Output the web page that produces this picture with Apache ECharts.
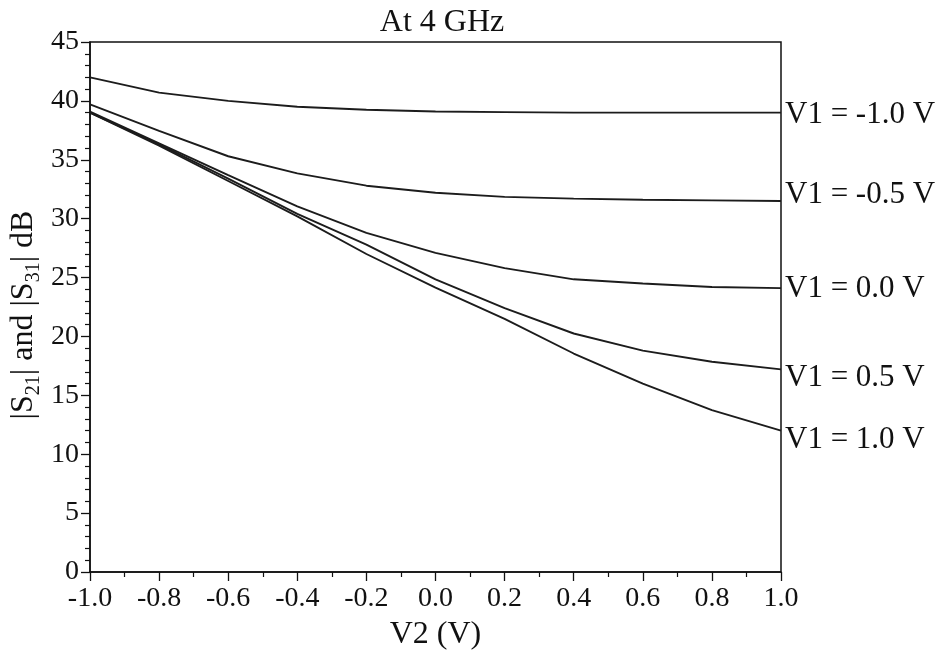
<!DOCTYPE html>
<html>
<head>
<meta charset="utf-8">
<title>At 4 GHz</title>
<script src="https://cdn.jsdelivr.net/npm/echarts@6/dist/echarts.min.js"></script>
<style>
  html, body { margin: 0; padding: 0; background: #fff; }
  #chart { width: 943px; height: 659px; }
</style>
</head>
<body>
<div id="chart"></div>
<script>
// Control voltage V2 (V) sampled every 0.2 V
const v2 = [-1.0, -0.8, -0.6, -0.4, -0.2, 0.0, 0.2, 0.4, 0.6, 0.8, 1.0];

// |S21| and |S31| (dB) for each V1 setting
const sV1m10 = [42.0, 40.7, 40.0, 39.5, 39.25, 39.1, 39.05, 39.0, 39.0, 39.0, 39.0];
const sV1m05 = [39.7, 37.45, 35.3, 33.85, 32.8, 32.2, 31.85, 31.7, 31.6, 31.55, 31.5];
const sV1p00 = [39.1, 36.4, 33.7, 31.05, 28.8, 27.1, 25.8, 24.85, 24.5, 24.2, 24.1];
const sV1p05 = [39.0, 36.3, 33.4, 30.4, 27.8, 24.85, 22.4, 20.25, 18.8, 17.85, 17.2];
const sV1p10 = [39.0, 36.2, 33.2, 30.2, 27.0, 24.15, 21.5, 18.55, 16.0, 13.75, 12.0];

const curveNames = ['V1 = -1.0 V', 'V1 = -0.5 V', 'V1 = 0.0 V', 'V1 = 0.5 V', 'V1 = 1.0 V'];
const curveValues = [sV1m10, sV1m05, sV1p00, sV1p05, sV1p10];

const FONT = '"Liberation Serif", "Times New Roman", serif';
// small vertical nudges so the end labels don't crowd each other
const labelNudge = [2, -6, 1, 8, 9];

const chart = echarts.init(document.getElementById('chart'), null, { renderer: 'canvas' });

const series = curveNames.map((name, i) => ({
  name: name,
  type: 'line',
  data: v2.map((x, k) => [x, curveValues[i][k]]),
  showSymbol: false,
  symbol: 'none',
  smooth: false,
  lineStyle: { color: '#1c1c1c', width: 1.9 },
  emphasis: { disabled: true },
  endLabel: {
    show: true,
    formatter: '{a}',
    distance: 4,
    offset: [0, labelNudge[i]],
    color: '#111',
    fontFamily: FONT,
    fontSize: 31
  },
  z: 3
}));

chart.setOption({
  animation: false,
  backgroundColor: '#fff',
  title: {
    text: 'At 4 GHz',
    left: 437,
    top: 2,
    textAlign: 'center',
    textStyle: { fontFamily: FONT, fontSize: 32, fontWeight: 'normal', color: '#111' }
  },
  grid: {
    left: 90, right: 162, top: 42, bottom: 87,
    outerBoundsMode: 'none',
    containLabel: false,
    show: true,
    borderColor: '#111',
    borderWidth: 1.5,
    backgroundColor: 'transparent'
  },
  xAxis: {
    type: 'value',
    min: -1.0,
    max: 1.0,
    interval: 0.2,
    name: 'V2 (V)',
    nameLocation: 'middle',
    nameGap: 47,
    nameTextStyle: { fontFamily: FONT, fontSize: 32, color: '#111' },
    axisLine: { show: true, onZero: false, lineStyle: { color: '#111', width: 1.5 } },
    axisTick: { show: true, inside: false, length: 9, lineStyle: { color: '#111', width: 1.3 } },
    minorTick: { show: true, splitNumber: 2, length: 5, lineStyle: { color: '#111', width: 1.2 } },
    splitLine: { show: false },
    axisLabel: {
      margin: 13,
      fontFamily: FONT,
      fontSize: 28,
      color: '#111',
      formatter: v => (Math.abs(v) < 1e-9 ? 0 : v).toFixed(1)
    }
  },
  yAxis: {
    type: 'value',
    min: 0,
    max: 45,
    interval: 5,
    name: '|S{sub|21}| and |S{sub|31}| dB',
    nameLocation: 'middle',
    nameRotate: 90,
    nameGap: 46,
    nameMoveOverlap: false,
    nameTextStyle: {
      fontFamily: FONT,
      fontSize: 32,
      color: '#111',
      lineHeight: 40,
      padding: [0, 16, 0, 0],
      rich: {
        sub: { fontFamily: FONT, fontSize: 20, color: '#111', verticalAlign: 'bottom', lineHeight: 40 }
      }
    },
    axisLine: { show: true, onZero: false, lineStyle: { color: '#111', width: 1.5 } },
    axisTick: { show: true, inside: false, length: 9, lineStyle: { color: '#111', width: 1.3 } },
    minorTick: { show: true, splitNumber: 5, length: 5, lineStyle: { color: '#111', width: 1.2 } },
    splitLine: { show: false },
    axisLabel: { margin: 11, fontFamily: FONT, fontSize: 28, color: '#111' }
  },
  series: series
});
</script>
</body>
</html>
